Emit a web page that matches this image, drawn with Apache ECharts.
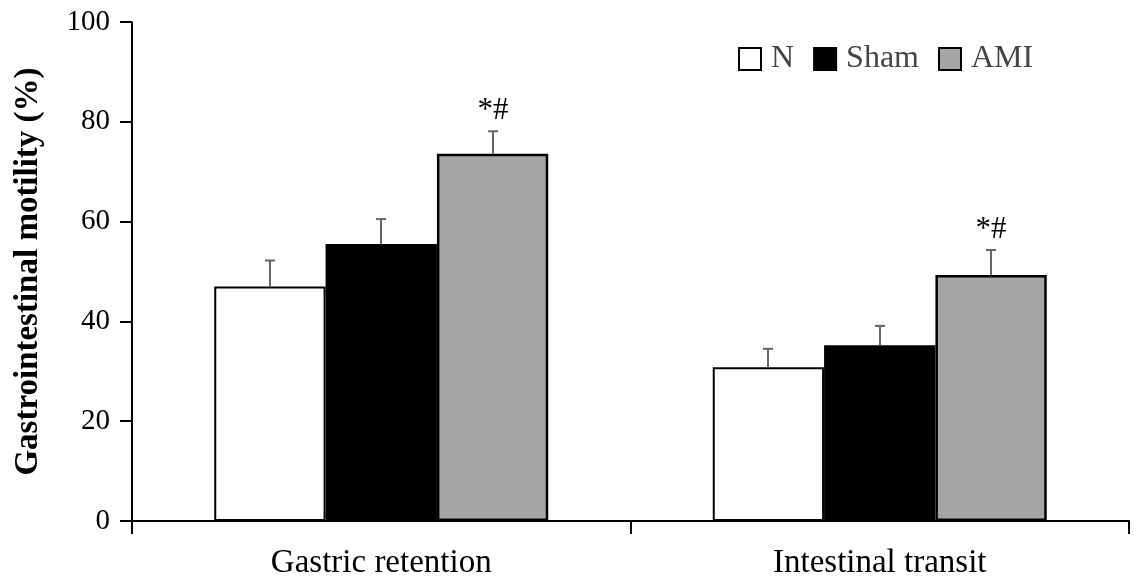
<!DOCTYPE html>
<html>
<head>
<meta charset="utf-8">
<script src="https://cdn.jsdelivr.net/npm/echarts@6/dist/echarts.min.js"></script>
<style>
  html, body { margin: 0; padding: 0; background: #fff; }
  #chart { width: 1136px; height: 580px; }
</style>
</head>
<body>
<div id="chart"></div>
<script>
// Gastrointestinal motility (%) by group, mean with upper error bar
const categories = ['Gastric retention', 'Intestinal transit'];
const groups = ['N', 'Sham', 'AMI'];
const meanN = [47.0, 30.8];
const meanSham = [55.5, 35.2];
const meanAMI = [73.6, 49.3];
const errN = [5.2, 3.7];
const errSham = [5.0, 3.9];
const errAMI = [4.5, 5.0];
const noteN = ['', ''];
const noteSham = ['', ''];
const noteAMI = ['*#', '*#'];
const yTicks = [0, 20, 40, 60, 80, 100];

const FONT = '"Liberation Serif", "Times New Roman", serif';
const CAT_GAP = 0.33;
const fills = ['#ffffff', '#000000', '#a6a6a6'];

const means = [meanN, meanSham, meanAMI];
const errs = [errN, errSham, errAMI];
const notes = [noteN, noteSham, noteAMI];

const chart = echarts.init(document.getElementById('chart'), null, { renderer: 'canvas' });

const barSeries = groups.map((g, i) => ({
  name: g,
  type: 'bar',
  data: means[i],
  barGap: '0%',
  barCategoryGap: (CAT_GAP * 100) + '%',
  itemStyle: { color: fills[i], borderColor: '#000', borderWidth: i === 2 ? 2.5 : 2 },
  emphasis: { disabled: true },
  z: 2
}));

// Upper error bars plus significance marks, placed at each bar's centre
const errorSeries = groups.map((g, i) => ({
  type: 'custom',
  name: g + ' err',
  z: 5,
  silent: true,
  data: categories.map((c, k) => [k, means[i][k], errs[i][k]]),
  renderItem: function (params, api) {
    const k = api.value(0);
    const m = api.value(1);
    const e = api.value(2);
    const note = notes[i][k];
    const base = api.coord([k, m]);
    const top = api.coord([k, m + e]);
    const band = api.size([1, 0])[0];
    const bw = band * (1 - CAT_GAP) / 3;
    const x = Math.round(base[0] + (i - 1) * bw);
    const capHalf = 5;
    const stroke = { stroke: '#666', lineWidth: 2 };
    const children = [
      { type: 'line', shape: { x1: x, y1: base[1], x2: x, y2: top[1] }, style: stroke },
      { type: 'line', shape: { x1: x - capHalf, y1: top[1], x2: x + capHalf, y2: top[1] }, style: stroke }
    ];
    if (note) {
      children.push({
        type: 'text',
        style: {
          x: x, y: top[1] - 20,
          text: note,
          font: '31px ' + FONT,
          fill: '#000',
          align: 'center',
          verticalAlign: 'middle'
        }
      });
    }
    return { type: 'group', children: children };
  }
}));

chart.setOption({
  animation: false,
  backgroundColor: '#fff',
  grid: { left: 132, right: 7, top: 22, bottom: 59, containLabel: false, outerBoundsMode: 'none' },
  legend: {
    data: groups,
    left: 733,
    top: 38,
    itemWidth: 22,
    itemHeight: 22,
    itemGap: 19,
    icon: 'rect',
    itemStyle: { borderColor: '#000', borderWidth: 2 },
    textStyle: { fontFamily: FONT, fontSize: 32, color: '#444', padding: [0, 0, 0, 5] },
    selectedMode: false
  },
  xAxis: {
    type: 'category',
    data: categories,
    axisLine: { lineStyle: { color: '#000', width: 2 } },
    axisTick: { show: true, length: 13, lineStyle: { color: '#000', width: 2 } },
    axisLabel: { fontFamily: FONT, fontSize: 33, color: '#000', margin: 26 },
    splitLine: { show: false }
  },
  yAxis: {
    type: 'value',
    min: yTicks[0],
    max: yTicks[yTicks.length - 1],
    interval: yTicks[1] - yTicks[0],
    name: 'Gastrointestinal motility (%)',
    nameLocation: 'middle',
    nameGap: 87,
    nameTextStyle: { fontFamily: FONT, fontSize: 33, fontWeight: 'bold', color: '#000' },
    axisLine: { show: true, lineStyle: { color: '#000', width: 2 } },
    axisTick: { show: true, length: 12, lineStyle: { color: '#000', width: 2 } },
    axisLabel: { fontFamily: FONT, fontSize: 29, color: '#000', margin: 22 },
    splitLine: { show: false }
  },
  series: barSeries.concat(errorSeries)
});
</script>
</body>
</html>
